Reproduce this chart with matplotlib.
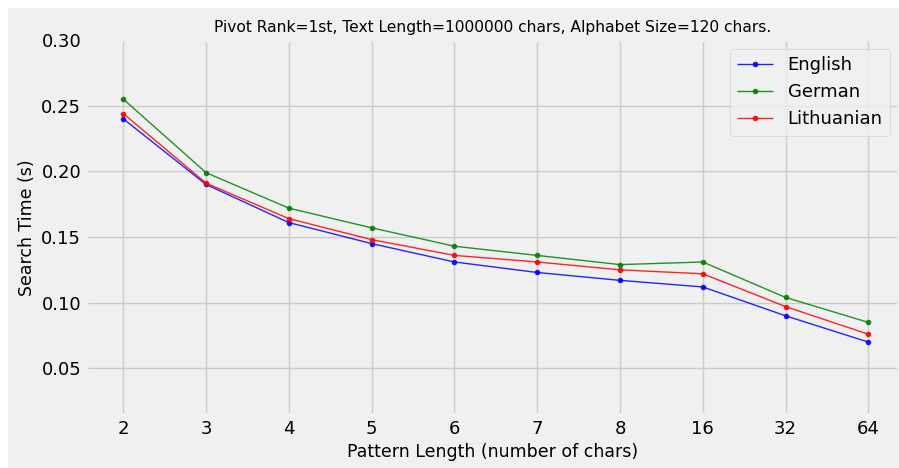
import matplotlib
matplotlib.use("Agg")
import matplotlib.pyplot as plt
from matplotlib.patches import Rectangle

plt.style.use("fivethirtyeight")

pattern_lengths = ["2", "3", "4", "5", "6", "7", "8", "16", "32", "64"]
english = [0.240, 0.190, 0.161, 0.145, 0.131, 0.123, 0.117, 0.112, 0.090, 0.070]
german = [0.255, 0.199, 0.172, 0.157, 0.143, 0.136, 0.129, 0.131, 0.104, 0.085]
lithuanian = [0.244, 0.191, 0.164, 0.148, 0.136, 0.131, 0.125, 0.122, 0.097, 0.076]

fig = plt.figure(figsize=(8.99, 4.68), dpi=100)
fig.patch.set_facecolor("white")
# grey panel with a thin white margin at top/left
fig.patches.append(Rectangle((8 / 899, 0), 1, 1 - 8 / 468, transform=fig.transFigure,
                             facecolor="#f0f0f0", edgecolor="none", zorder=-10))
ax = fig.add_axes([86 / 899, 1 - 415 / 468, (899 - 86) / 899, (415 - 40) / 468])

x = range(len(pattern_lengths))
ax.plot(x, english, color="blue", marker=".", markersize=6, linewidth=1, alpha=0.85, label="English")
ax.plot(x, german, color="green", marker=".", markersize=6, linewidth=1, alpha=0.85, label="German")
ax.plot(x, lithuanian, color="red", marker=".", markersize=6, linewidth=1, alpha=0.85, label="Lithuanian")

ax.set_xticks(list(x))
ax.set_xticklabels(pattern_lengths)
ax.set_xlim(-0.45, 9.37)
ax.set_ylim(0.0145, 0.30)
ax.set_yticks([0.05, 0.10, 0.15, 0.20, 0.25, 0.30])
ax.tick_params(labelsize=13)
ax.set_xlabel("Pattern Length (number of chars)", fontsize=12.5)
ax.set_ylabel("Search Time (s)", fontsize=12.5)
ax.set_title("Pivot Rank=1st, Text Length=1000000 chars, Alphabet Size=120 chars.", fontsize=11.2)
ax.legend(loc="upper right", fontsize=13)

fig.savefig("out.png", dpi=100)
